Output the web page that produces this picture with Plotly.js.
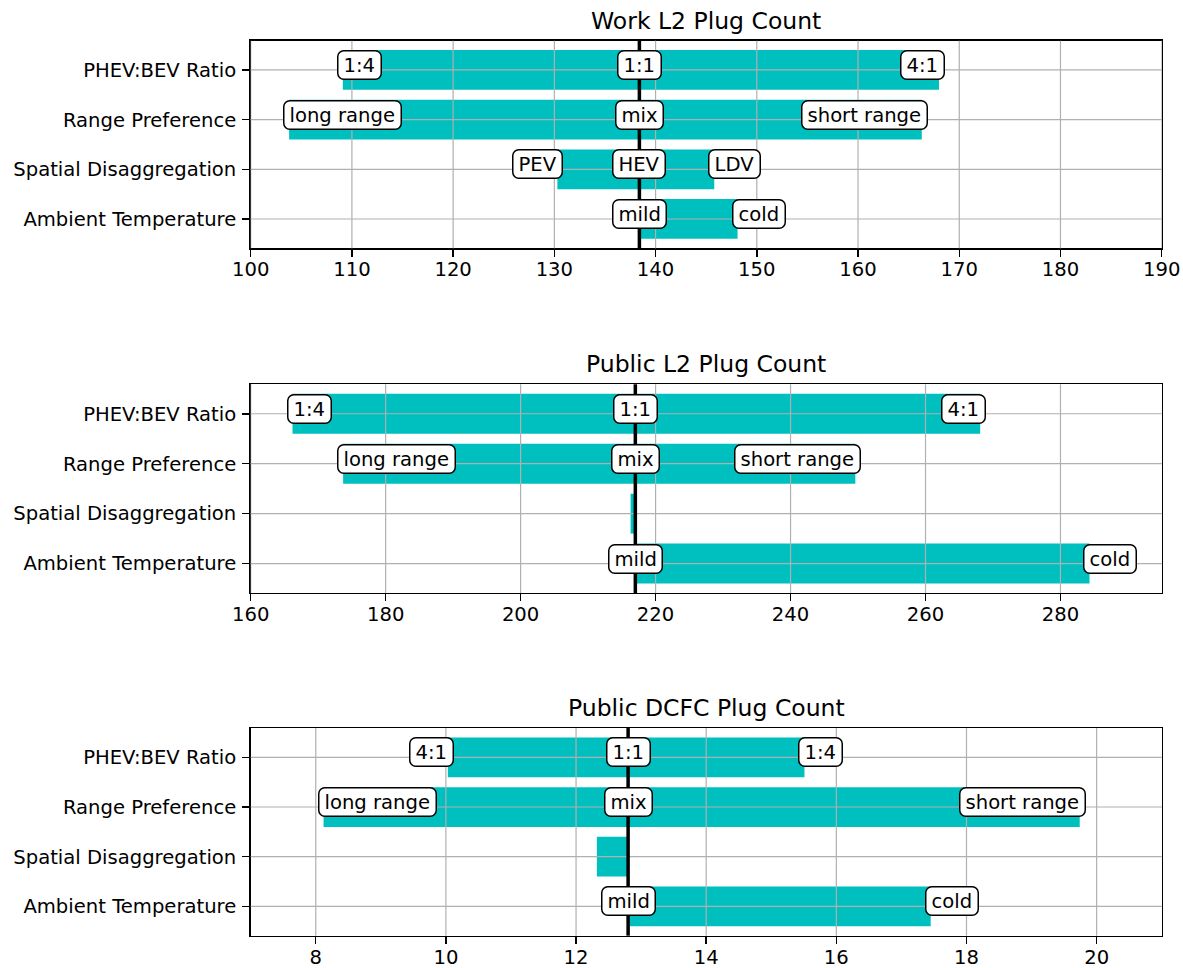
<!DOCTYPE html>
<html>
<head>
<meta charset="utf-8">
<script src="https://cdn.plot.ly/plotly-3.0.1.min.js"></script>
<style>
html,body{margin:0;padding:0;background:#fff;}
#chart{width:1183px;height:968px;}
</style>
</head>
<body>
<div id="chart"></div>
<script>
// ---------------- data ----------------
const categories = ['PHEV:BEV Ratio', 'Range Preference', 'Spatial Disaggregation', 'Ambient Temperature'];

const titles = ['Work L2 Plug Count', 'Public L2 Plug Count', 'Public DCFC Plug Count'];

// baseline (1:1 / mix / mild) value of each chart
const baselines = [138.4, 217.0, 12.8];

// Work L2
const workLow  = [109.1, 103.8, 130.3, 138.4];
const workHigh = [168.0, 166.3, 145.8, 148.1];
const workLowLabels  = ['1:4', 'long range', 'PEV', ''];
const workMidLabels  = ['1:1', 'mix', 'HEV', 'mild'];
const workHighLabels = ['4:1', 'short range', 'LDV', 'cold'];

// Public L2
const l2Low  = [166.2, 173.7, 216.3, 217.0];
const l2High = [268.1, 249.6, 217.0, 284.3];
const l2LowLabels  = ['1:4', 'long range', '', ''];
const l2MidLabels  = ['1:1', 'mix', '', 'mild'];
const l2HighLabels = ['4:1', 'short range', '', 'cold'];

// Public DCFC
const dcLow  = [10.03, 8.12, 12.32, 12.8];
const dcHigh = [15.51, 19.74, 12.8, 17.45];
const dcLowLabels  = ['4:1', 'long range', '', ''];
const dcMidLabels  = ['1:1', 'mix', '', 'mild'];
const dcHighLabels = ['1:4', 'short range', '', 'cold'];

// axis ranges and ticks
const xRanges = [[100, 190], [160, 295], [7, 21]];
const xTicks = [
  [100, 110, 120, 130, 140, 150, 160, 170, 180, 190],
  [160, 180, 200, 220, 240, 260, 280],
  [8, 10, 12, 14, 16, 18, 20]
];

// ---------------- style ----------------
const FONT = 'DejaVu Sans, Verdana, sans-serif';
const TICK_SIZE = 19.6;
const TITLE_SIZE = 23.5;
const BAR_COLOR = '#00bfbf';
const GRID_COLOR = '#b0b0b0';
const labelAlign = {
  '1:4': 'left', '4:1': 'right', 'long range': 'left', 'short range': 'right',
  'PEV': 'right', 'LDV': 'left', 'cold': 'left'
};
const xDomain = [0.2119, 0.9820];
const yDomains = [[0.7435, 0.9580], [0.3874, 0.6030], [0.0334, 0.2479]];

const panels = [
  {low: workLow, high: workHigh, lo: workLowLabels, mid: workMidLabels, hi: workHighLabels},
  {low: l2Low, high: l2High, lo: l2LowLabels, mid: l2MidLabels, hi: l2HighLabels},
  {low: dcLow, high: dcHigh, lo: dcLowLabels, mid: dcMidLabels, hi: dcHighLabels}
];

const data = [];
const shapes = [];
const annotations = [];
const layout = {
  width: 1183, height: 968,
  margin: {l: 0, r: 0, t: 0, b: 0},
  paper_bgcolor: '#fff', plot_bgcolor: '#fff',
  showlegend: false,
  font: {family: FONT, size: TICK_SIZE, color: '#000'}
};

panels.forEach((p, i) => {
  const n = i === 0 ? '' : String(i + 1);
  const xa = 'x' + n, ya = 'y' + n;
  data.push({
    type: 'bar', orientation: 'h',
    y: categories,
    base: p.low,
    x: p.high.map((h, k) => h - p.low[k]),
    width: 0.8,
    marker: {color: BAR_COLOR, line: {width: 0}},
    xaxis: xa, yaxis: ya,
    hoverinfo: 'skip'
  });
  layout['xaxis' + n] = {
    domain: xDomain, anchor: ya, range: xRanges[i],
    tickmode: 'array', tickvals: xTicks[i],
    ticks: 'outside', ticklen: 7, tickwidth: 1.5, tickcolor: '#000',
    showline: true, linecolor: '#000', linewidth: 1.5, mirror: true,
    showgrid: false, zeroline: false,
    tickfont: {family: FONT, size: TICK_SIZE, color: '#000'},
    ticklabelstandoff: -4,
    fixedrange: true
  };
  layout['yaxis' + n] = {
    domain: yDomains[i], anchor: xa, type: 'category',
    categoryorder: 'array', categoryarray: categories,
    range: [3.59, -0.59],
    ticks: 'outside', ticklen: 7, tickwidth: 1.5, tickcolor: '#000',
    showline: true, linecolor: '#000', linewidth: 1.5, mirror: true,
    showgrid: false, zeroline: false,
    tickfont: {family: FONT, size: TICK_SIZE, color: '#000'},
    ticklabelstandoff: 2,
    fixedrange: true
  };
  // grid lines drawn above the bars (like matplotlib)
  xTicks[i].forEach(v => shapes.push({
    type: 'line', layer: 'above', xref: xa, yref: ya + ' domain',
    x0: v, x1: v, y0: 0, y1: 1, line: {color: GRID_COLOR, width: 1.2}
  }));
  categories.forEach((c, k) => shapes.push({
    type: 'line', layer: 'above', xref: xa + ' domain', yref: ya,
    x0: 0, x1: 1, y0: k, y1: k, line: {color: GRID_COLOR, width: 1.2}
  }));
  // baseline
  shapes.push({
    type: 'line', layer: 'above', xref: xa, yref: ya + ' domain',
    x0: baselines[i], x1: baselines[i], y0: 0, y1: 1,
    line: {color: '#000', width: 3.5}
  });
  // labels
  const addLabel = (text, xv, cat) => {
    if (!text) return;
    const al = labelAlign[text] || 'center';
    annotations.push({
      text: text, x: xv, y: cat, xref: xa, yref: ya,
      xanchor: al, yanchor: 'middle',
      xshift: al === 'left' ? -3 : (al === 'right' ? 3 : 0),
      yshift: 5,
      showarrow: false,
      bgcolor: '#fff', bordercolor: '#000', borderwidth: 1.5, borderpad: 2,
      font: {family: FONT, size: TICK_SIZE, color: '#000'}
    });
  };
  categories.forEach((c, k) => {
    addLabel(p.lo[k], p.low[k], c);
    addLabel(p.mid[k], baselines[i], c);
    addLabel(p.hi[k], p.high[k], c);
  });
  // title
  annotations.push({
    text: titles[i], xref: 'paper', yref: 'paper',
    x: (xDomain[0] + xDomain[1]) / 2, y: yDomains[i][1],
    xanchor: 'center', yanchor: 'middle', yshift: 20,
    showarrow: false,
    font: {family: FONT, size: TITLE_SIZE, color: '#000'}
  });
});

layout.shapes = shapes;
layout.annotations = annotations;

Plotly.newPlot('chart', data, layout, {staticPlot: true, displayModeBar: false}).then(() => {
  document.querySelectorAll('g.annotation rect.bg').forEach(r => {
    const sw = parseFloat(r.style.strokeWidth || r.getAttribute('stroke-width') || '0');
    if (!sw) return;
    const x = parseFloat(r.getAttribute('x'));
    const w = parseFloat(r.getAttribute('width'));
    r.setAttribute('x', x - 3);
    r.setAttribute('width', w + 6);
    r.setAttribute('rx', 6);
    r.setAttribute('ry', 6);
  });
});
</script>
</body>
</html>
